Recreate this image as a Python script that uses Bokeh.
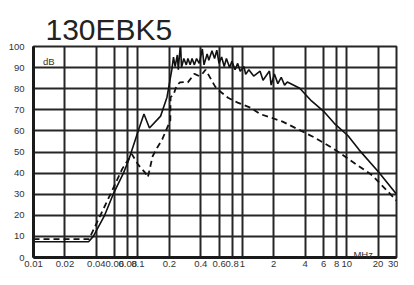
from bokeh.plotting import figure
from bokeh.models import FixedTicker, Label
from bokeh.embed import file_html
from bokeh.resources import INLINE

title_text = "130EBK5"
x_ticks = [0.01, 0.02, 0.04, 0.06, 0.08, 0.1, 0.2, 0.4, 0.6, 0.8, 1, 2, 4, 6, 8, 10, 20, 30]
x_labels = ["0.01", "0.02", "0.04", "0.06", "0.08", "0.1", "0.2", "0.4", "0.6", "0.8",
            "1", "2", "4", "6", "8", "10", "20", "30"]
y_ticks = [0, 10, 20, 30, 40, 50, 60, 70, 80, 90, 100]

sol_f = [0.01, 0.0337, 0.0374, 0.048, 0.058, 0.0727, 0.0813, 0.1006, 0.1143, 0.129,
         0.165, 0.19, 0.2114, 0.2193, 0.2274, 0.2387, 0.2438, 0.2560, 0.2616, 0.2752,
         0.2908, 0.3015, 0.3166, 0.3303, 0.3475, 0.3650, 0.3865, 0.4145, 0.4298, 0.4608,
         0.4778, 0.5125, 0.5428, 0.5699, 0.5984, 0.6337, 0.6711, 0.7046, 0.7554, 0.7953,
         0.8529, 0.9033, 0.9544, 1.039, 1.077, 1.155, 1.285, 1.481, 1.58, 1.82,
         1.89, 2.03, 2.19, 2.36, 2.54, 2.7, 3.55, 4.6, 6.1, 7.6,
         10.3, 13.2, 20.3, 30]
sol_db = [7.5, 7.5, 10, 20, 30, 40, 46, 60, 68, 61.4,
          67, 76, 89, 95, 90.5, 96, 89, 101.8, 90, 94.3,
          91.3, 94.3, 91.3, 94.3, 91.3, 94.3, 92, 98.8, 91.3, 96.5,
          93.5, 98, 94.3, 98.3, 92, 95, 90.5, 94.3, 90, 93,
          89, 92, 88.3, 90.5, 86.8, 89, 86, 88.3, 84, 88.4,
          81.7, 87, 82.4, 85.4, 81.7, 83.2, 80.2, 74.2, 69, 63.6,
          57.7, 50.9, 40.4, 30]

dash_f = [0.01, 0.034, 0.0552, 0.0708, 0.0875, 0.1006, 0.116, 0.1245, 0.1384, 0.153,
          0.171, 0.185, 0.2045, 0.2056, 0.219, 0.235, 0.253, 0.281, 0.301, 0.335,
          0.3475, 0.386, 0.4145, 0.4445, 0.461, 0.55, 0.59, 0.679, 0.73, 0.903,
          1.197, 1.48, 1.963, 2.43, 4.86, 7.02, 8.67, 17.6, 30]
dash_db = [8.7, 8.7, 30.5, 42, 49, 44, 40.5, 38, 48, 52,
           56, 60, 65, 76, 77, 81.5, 83, 83.2, 83, 86,
           87, 86, 87, 89, 87.7, 81, 79.4, 77, 75.7, 73.4,
           71, 68, 66, 64.4, 57, 52.4, 49.4, 38.9, 27]

FONT = "Liberation Sans"
GRID = "#262626"

p = figure(width=398, height=269, x_axis_type="log", x_range=(0.01, 30), y_range=(0, 100),
           output_backend="svg", toolbar_location=None,
           min_border_left=33, min_border_right=2, min_border_top=46, min_border_bottom=0)
p.background_fill_color = "white"
p.border_fill_color = "white"
p.outline_line_color = GRID
p.outline_line_width = 2

p.title.text = title_text
p.title.text_font = FONT
p.title.text_font_size = "30px"
p.title.text_font_style = "normal"
p.title.text_color = "#222222"
p.title.align = "left"
p.title.offset = 12
p.title.standoff = 2

p.xaxis.ticker = FixedTicker(ticks=x_ticks, minor_ticks=[])
p.yaxis.ticker = FixedTicker(ticks=y_ticks, minor_ticks=[])
p.xaxis.major_label_overrides = {t: s for t, s in zip(x_ticks, x_labels)}
for ax in (p.xaxis, p.yaxis):
    ax.major_tick_line_color = None
    ax.minor_tick_line_color = None
    ax.major_tick_out = 0
    ax.major_tick_in = 0
    ax.minor_tick_out = 0
    ax.minor_tick_in = 0
    ax.axis_line_color = "#1a1a1a"
    ax.axis_line_width = 3
    ax.major_label_text_font = FONT
    ax.major_label_text_font_size = "9.5px"
    ax.major_label_text_color = "#333333"
p.xaxis.major_label_standoff = 3
p.yaxis.major_label_standoff = 9

p.xgrid.ticker = FixedTicker(ticks=x_ticks, minor_ticks=[])
p.ygrid.ticker = FixedTicker(ticks=y_ticks, minor_ticks=[])
for g in (p.xgrid, p.ygrid):
    g.grid_line_color = GRID
    g.grid_line_width = 2
    g.grid_line_alpha = 1.0

p.line(sol_f, sol_db, line_color="#111111", line_width=1.6)
p.line(dash_f, dash_db, line_color="#111111", line_width=1.8, line_dash="6 4")

p.add_layout(Label(x=0.0123, y=92.8, text="dB",
                   text_font=FONT, text_font_size="9.5px", text_color="#333333",
                   text_baseline="alphabetic"))
p.add_layout(Label(x=11.6, y=1.6, text="MHz",
                   text_font=FONT, text_font_size="9.5px", text_color="#333333",
                   text_baseline="alphabetic"))

open("out.html", "w").write(file_html(p, INLINE))
